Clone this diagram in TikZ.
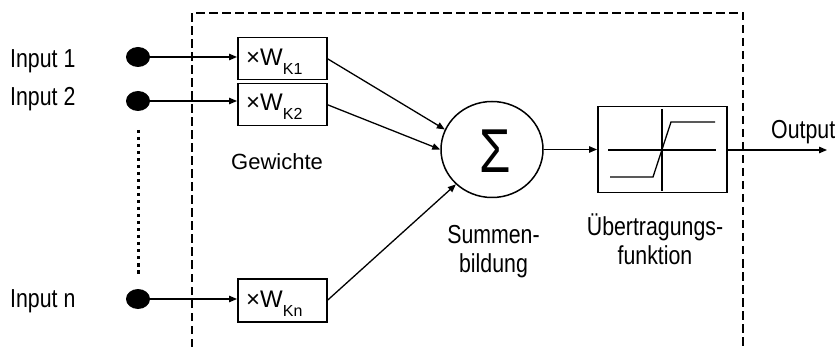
\documentclass[tikz,border=0pt]{standalone}
\usepackage{fontspec}
\setmainfont{Liberation Sans}
\newfontfamily\narrowsans{Liberation Sans}[FakeStretch=0.82]
\usetikzlibrary{arrows.meta,shapes.geometric}

\tikzset{
  conn/.style={line width=1.3pt,-{Triangle[length=8pt,width=6.5pt]}},
  plain/.style={line width=1.3pt},
  wbox/.style={draw,line width=1.5pt,minimum width=89pt,inner sep=0pt},
  dot/.style={ellipse,fill=black,minimum width=24pt,minimum height=20pt,inner sep=0pt},
  lbl/.style={inner sep=0pt,font=\narrowsans\fontsize{26pt}{29pt}\selectfont},
  wlbl/.style={inner sep=0pt,font=\fontsize{24pt}{26pt}\selectfont},
  glbl/.style={inner sep=0pt,font=\fontsize{22pt}{26pt}\selectfont},
}
\newcommand{\wsub}[1]{\raisebox{-9pt}{\fontsize{16pt}{18pt}\selectfont #1}}

\begin{document}
\begin{tikzpicture}[x=1pt,y=-1pt]
\useasboundingbox (0,0) rectangle (840,347);

% neuron boundary (open at the bottom)
\draw[line width=1.4pt,dash pattern=on 8.5pt off 4.5pt] (192,347) |- (743,13) -- (743,347);

% input terminals
\node[dot] (d1) at (138,57) {};
\node[dot] (d2) at (138,101) {};
\node[dot] (dn) at (138,299) {};
\coordinate (dtop) at (138,130);
\coordinate (dbot) at (138,277);
\draw[line width=3pt,dash pattern=on 3.5pt off 3.5pt] (dtop) -- (dbot);

\node[lbl,anchor=base west] (in1) at (10,67.3) {Input 1};
\node[lbl,anchor=base west] (in2) at (10,106) {Input 2};
\node[lbl,anchor=base west] (inn) at (10,307.5) {Input n};

% weight boxes
\node[wbox,minimum height=42pt,anchor=north west] (w1) at (237,37) {};
\node[wbox,minimum height=42pt,anchor=north west] (w2) at (237,83) {};
\node[wbox,minimum height=43pt,anchor=north west] (wn) at (237,278) {};
\node[wlbl,anchor=base west] (t1) at (246,66) {×W\wsub{K1}};
\node[wlbl,anchor=base west] (t2) at (246,111) {×W\wsub{K2}};
\node[wlbl,anchor=base west] (tn) at (246,307) {×W\wsub{Kn}};
\node[glbl,anchor=base west] (gew) at (231,169.3) {Gewichte};

\draw[conn] (d1) -- (w1.west |- d1);
\draw[conn] (d2) -- (w2.west |- d2);
\draw[conn] (dn) -- (wn.west |- dn);

% summation
\node[ellipse,draw,line width=1.5pt,minimum width=102pt,minimum height=96pt,inner sep=0pt] (sum) at (492,149.5) {};
\node[inner sep=0pt,font=\narrowsans\fontsize{62pt}{62pt}\selectfont] (sig) at (495,151) {Σ};
\draw[conn] (w1.east) -- (sum.157.5);
\draw[conn] (w2.east) -- (sum.180);
\draw[conn] (wn.east) -- (sum.224);
\node[lbl,align=center] (sumlbl) at (493.5,251.8) {Summen-\\bildung};

% transfer function
\node[draw,line width=1.5pt,minimum width=129pt,minimum height=86pt,inner sep=0pt,anchor=north west] (tf) at (597,106) {};
\draw[plain] (608,150) -- (716,150);
\draw[plain] (662,109) -- (662,191);
\draw[plain] (610,177) -- (653,177) -- (671,122) -- (715,122);
\draw[conn] (sum.east) -- (tf.west |- sum.east);
\node[lbl,align=center] (tflbl) at (655,239.6) {Übertragungs-\\funktion};

% output
\coordinate (out) at (827,150);
\draw[conn] (tf.east |- out) -- (out);
\node[lbl,anchor=base west] (outlbl) at (771,138.3) {Output};
\end{tikzpicture}
\end{document}
